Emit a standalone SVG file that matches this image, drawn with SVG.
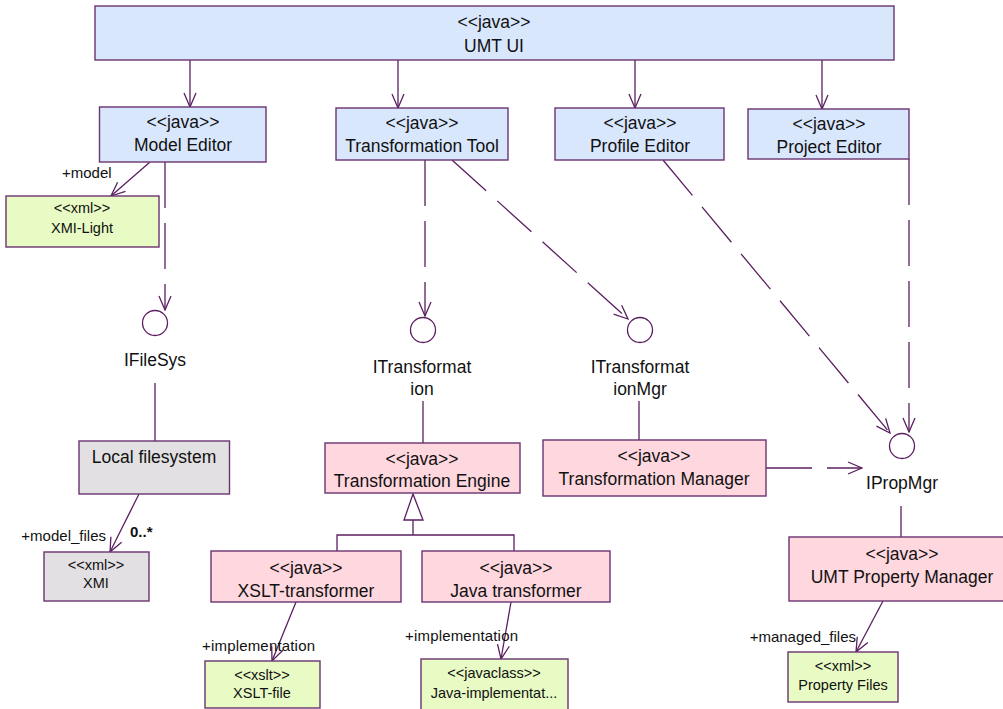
<svg xmlns="http://www.w3.org/2000/svg" width="1003" height="709" viewBox="0 0 1003 709">
<style>
  .box { stroke: #6a3470; stroke-width: 1.4; }
  .blue { fill: #d9e7fd; }
  .pink { fill: #ffd7df; }
  .green { fill: #e8fbc4; }
  .gray { fill: #e2e0e2; }
  .iface { fill: none; stroke: #5a1f60; stroke-width: 1.3; }
  text { font-family: "Liberation Sans", Arial, sans-serif; fill: #111; }
  .big { font-size: 17.5px; text-anchor: middle; }
  .small { font-size: 14.5px; text-anchor: middle; }
  .lbl { font-size: 15px; }
  .edge { fill: none; stroke: #5a1f60; stroke-width: 1.3; }
  .dash { stroke-dasharray: 46 15; }
</style>
<defs>
  <marker id="open" viewBox="0 0 16 14" refX="15" refY="7" markerWidth="16" markerHeight="14" markerUnits="userSpaceOnUse" orient="auto">
    <path d="M1,1 L15,7 L1,13" fill="none" stroke="#5a1f60" stroke-width="1.3"/>
  </marker>
</defs>

<g id="connectors">
  <line class="edge" x1="190" y1="60" x2="190" y2="107" marker-end="url(#open)"/>
  <line class="edge" x1="398" y1="60" x2="398" y2="108" marker-end="url(#open)"/>
  <line class="edge" x1="635" y1="60" x2="635" y2="108" marker-end="url(#open)"/>
  <line class="edge" x1="822" y1="60" x2="822" y2="109" marker-end="url(#open)"/>
  <line class="edge" x1="150" y1="162" x2="111" y2="196" marker-end="url(#open)"/>
  <line class="edge dash" x1="165" y1="162" x2="165" y2="310" marker-end="url(#open)"/>
  <line class="edge" x1="155" y1="383" x2="155" y2="441"/>
  <line class="edge" x1="139" y1="494" x2="110" y2="552" marker-end="url(#open)"/>
  <line class="edge dash" x1="425" y1="160" x2="425" y2="316" marker-end="url(#open)"/>
  <line class="edge" x1="423" y1="401" x2="423" y2="443"/>
  <line class="edge dash" x1="452" y1="160" x2="628" y2="319" marker-end="url(#open)"/>
  <line class="edge" x1="639" y1="401" x2="639" y2="440"/>
  <line class="edge dash" x1="663" y1="160" x2="890" y2="433" marker-end="url(#open)"/>
  <line class="edge dash" x1="909" y1="159" x2="909" y2="432" marker-end="url(#open)"/>
  <line class="edge dash" x1="766" y1="468" x2="862" y2="468" marker-end="url(#open)"/>
  <line class="edge" x1="901" y1="506" x2="901" y2="537"/>
  <line class="edge" x1="883" y1="601" x2="856" y2="652" marker-end="url(#open)"/>
  <polygon points="413,494 404,520 423,520" fill="#fff" stroke="#5a1f60" stroke-width="1.3"/>
  <polyline class="edge" points="413,520 413,535"/>
  <polyline class="edge" points="337,551 337,535 514,535 514,551"/>
  <line class="edge" x1="296" y1="602" x2="272" y2="661" marker-end="url(#open)"/>
  <line class="edge" x1="511" y1="602" x2="501" y2="659" marker-end="url(#open)"/>
  <text class="lbl" x="62" y="178">+model</text>
  <text class="lbl" x="106" y="541" text-anchor="end">+model_files</text>
  <text class="lbl" x="130" y="537" font-weight="bold">0..*</text>
  <text class="lbl" x="202" y="651" textLength="113">+implementation</text>
  <text class="lbl" x="405" y="641" textLength="113">+implementation</text>
  <text class="lbl" x="856" y="642" text-anchor="end">+managed_files</text>
</g>

<g id="umt-ui">
  <rect class="box blue" x="95" y="6" width="799" height="54"/>
  <text class="big" x="494" y="28">&lt;&lt;java&gt;&gt;</text>
  <text class="big" x="494" y="52">UMT UI</text>
</g>
<g id="model-editor">
  <rect class="box blue" x="99.5" y="107" width="166.5" height="55"/>
  <text class="big" x="183" y="128">&lt;&lt;java&gt;&gt;</text>
  <text class="big" x="183" y="151">Model Editor</text>
</g>
<g id="transformation-tool">
  <rect class="box blue" x="336" y="108" width="172" height="52"/>
  <text class="big" x="422" y="129">&lt;&lt;java&gt;&gt;</text>
  <text class="big" x="422" y="152">Transformation Tool</text>
</g>
<g id="profile-editor">
  <rect class="box blue" x="555" y="108" width="169" height="52"/>
  <text class="big" x="640" y="129">&lt;&lt;java&gt;&gt;</text>
  <text class="big" x="640" y="152">Profile Editor</text>
</g>
<g id="project-editor">
  <rect class="box blue" x="748" y="109" width="161" height="50"/>
  <text class="big" x="829" y="130">&lt;&lt;java&gt;&gt;</text>
  <text class="big" x="829" y="153">Project Editor</text>
</g>
<g id="xmi-light">
  <rect class="box green" x="6" y="196" width="153" height="51"/>
  <text class="small" x="82" y="213">&lt;&lt;xml&gt;&gt;</text>
  <text class="small" x="82" y="233">XMI-Light</text>
</g>
<g id="ifilesys">
  <circle class="iface" cx="155" cy="323" r="12.5"/>
  <text class="big" x="155" y="366">IFileSys</text>
</g>
<g id="itransformation">
  <circle class="iface" cx="423" cy="330" r="12.5"/>
  <text class="big" x="422" y="373">ITransformat</text>
  <text class="big" x="422" y="395">ion</text>
</g>
<g id="itransformationmgr">
  <circle class="iface" cx="640" cy="330" r="12.5"/>
  <text class="big" x="640" y="373">ITransformat</text>
  <text class="big" x="640" y="395">ionMgr</text>
</g>
<g id="ipropmgr">
  <circle class="iface" cx="902" cy="446" r="12.5"/>
  <text class="big" x="902" y="489">IPropMgr</text>
</g>
<g id="local-filesystem">
  <rect class="box gray" x="79" y="441" width="150.5" height="53"/>
  <text class="big" x="154" y="463">Local filesystem</text>
</g>
<g id="transformation-engine">
  <rect class="box pink" x="325" y="443" width="195" height="50"/>
  <text class="big" x="422" y="465">&lt;&lt;java&gt;&gt;</text>
  <text class="big" x="422" y="487">Transformation Engine</text>
</g>
<g id="transformation-manager">
  <rect class="box pink" x="543" y="440" width="223" height="56"/>
  <text class="big" x="654" y="462">&lt;&lt;java&gt;&gt;</text>
  <text class="big" x="654" y="485">Transformation Manager</text>
</g>
<g id="umt-property-manager">
  <rect class="box pink" x="789" y="537" width="220" height="64"/>
  <text class="big" x="902" y="560">&lt;&lt;java&gt;&gt;</text>
  <text class="big" x="902" y="583">UMT Property Manager</text>
</g>
<g id="xmi">
  <rect class="box gray" x="44" y="552" width="105" height="49"/>
  <text class="small" x="96" y="570">&lt;&lt;xml&gt;&gt;</text>
  <text class="small" x="96" y="588">XMI</text>
</g>
<g id="xslt-transformer">
  <rect class="box pink" x="211" y="551" width="190" height="51"/>
  <text class="big" x="306" y="574">&lt;&lt;java&gt;&gt;</text>
  <text class="big" x="306" y="597">XSLT-transformer</text>
</g>
<g id="java-transformer">
  <rect class="box pink" x="422" y="551" width="188" height="51"/>
  <text class="big" x="516" y="574">&lt;&lt;java&gt;&gt;</text>
  <text class="big" x="516" y="597">Java transformer</text>
</g>
<g id="xslt-file">
  <rect class="box green" x="205" y="661" width="115" height="47"/>
  <text class="small" x="262" y="680">&lt;&lt;xslt&gt;&gt;</text>
  <text class="small" x="262" y="698">XSLT-file</text>
</g>
<g id="java-implementation">
  <rect class="box green" x="421" y="659" width="147" height="55"/>
  <text class="small" x="494" y="678">&lt;&lt;javaclass&gt;&gt;</text>
  <text class="small" x="494" y="698">Java-implementat...</text>
</g>
<g id="property-files">
  <rect class="box green" x="788" y="652" width="110" height="50"/>
  <text class="small" x="843" y="671">&lt;&lt;xml&gt;&gt;</text>
  <text class="small" x="843" y="690">Property Files</text>
</g>
</svg>
